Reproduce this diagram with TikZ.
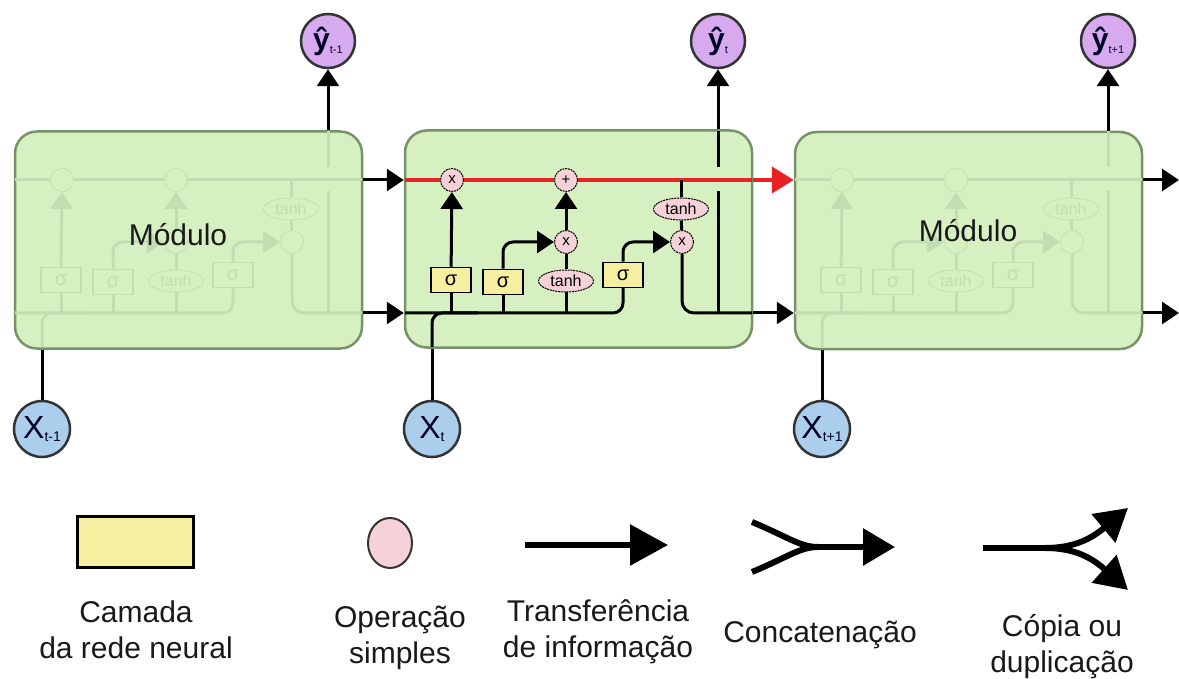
\documentclass[tikz,border=0pt]{standalone}
\usepackage{fontspec}
\setmainfont{Liberation Sans}
\usetikzlibrary{arrows.meta,shapes.geometric}
\definecolor{modfill}{RGB}{214,240,194}
\definecolor{modborder}{RGB}{120,146,106}
\definecolor{ghost}{RGB}{194,221,178}
\definecolor{gateyellow}{RGB}{246,238,160}
\definecolor{oppink}{RGB}{246,210,216}
\definecolor{ypurple}{RGB}{215,170,240}
\definecolor{xblue}{RGB}{170,206,236}
\definecolor{cellred}{RGB}{232,34,34}
\definecolor{txtdark}{RGB}{25,25,25}
\colorlet{LC}{black}
\colorlet{BD}{black}
\colorlet{BF}{gateyellow}
\colorlet{CF}{oppink}
\colorlet{TC}{black}
\newcommand\opmul{x}
\newcommand\opadd{+}
\tikzset{
  module/.style={draw=modborder, line width=2.5pt, fill=modfill, rounded corners=22pt,
    minimum width=347pt, minimum height=217pt, inner sep=0pt},
  inl/.style={draw=LC, line width=3pt},
  inarr/.style={inl, -{Triangle[length=17pt,width=22pt]}},
  celll/.style={inl},
  arr/.style={draw=black, line width=3pt, -{Triangle[length=17pt,width=22pt]}},
  plainl/.style={draw=black, line width=3pt},
  redarr/.style={draw=cellred, line width=4.5pt, -{Triangle[length=22pt,width=26pt]}},
  opc/.style={circle, draw=BD, fill=CF, line width=1pt, dash pattern=on 2pt off 0.8pt,
    minimum size=23pt, inner sep=0pt, font=\fontsize{15}{15}\selectfont, text=TC},
  gatebox/.style={rectangle, draw=BD, fill=BF, line width=1.5pt, minimum width=40pt,
    minimum height=25pt, inner sep=0pt, font=\fontsize{20}{20}\selectfont, text=TC},
  tanhn/.style={ellipse, draw=BD, fill=CF, line width=1pt, dash pattern=on 2pt off 0.8pt,
    minimum width=55pt, minimum height=22pt, inner sep=0pt, font=\fontsize{16}{16}\selectfont, text=TC},
  ynode/.style={circle, draw=black!80, fill=ypurple, line width=2.5pt, minimum size=54pt, inner sep=0pt, text=black!85!blue},
  xnode/.style={circle, draw=black!80, fill=xblue, line width=2.5pt, minimum size=56pt, inner sep=0pt, text=black!85!blue},
  modtxt/.style={font=\fontsize{30}{30}\selectfont, text=txtdark},
  legtxt/.style={align=center, font=\fontsize{30}{36}\selectfont, text=txtdark, inner sep=0pt},
  legl/.style={draw=black, line width=6pt},
  legarr/.style={draw=black, line width=6pt, -{Triangle[length=38pt,width=40pt]}},
  legarrb/.style={draw=black, line width=6pt, -{Triangle[length=32pt,width=36pt]}},
}
\newcommand\lstmbody[1]{%
  \coordinate (#1cl0) at (405,180);
  \coordinate (#1cl1) at (752,180);
  \coordinate (#1hl0) at (405,313);
  \coordinate (#1hl1) at (752,313);
  \coordinate (#1xin) at (432,347);
  \coordinate (#1xj) at (478,313);
  \coordinate (#1hv0) at (718,313);
  \coordinate (#1hv1) at (718,191);
  \coordinate (#1hv2) at (718,167);
  \coordinate (#1hv3) at (718,131);
  \node[opc] (#1m1) at (452,180) {\opmul};
  \node[opc] (#1a) at (566,180) {\opadd};
  \node[opc] (#1m2) at (566,242) {\opmul};
  \node[opc] (#1m3) at (682,242) {\opmul};
  \node[tanhn] (#1th1) at (566,281) {tanh};
  \node[tanhn] (#1th2) at (681,209) {tanh};
  \node[gatebox] (#1s1) at (451,280) {σ};
  \node[gatebox] (#1s2) at (503,282) {σ};
  \node[gatebox] (#1s3) at (623,275) {σ};
  \draw[celll] (#1cl0) -- (#1m1);
  \draw[celll] (#1m1) -- (#1a);
  \draw[celll] (#1a) -- (#1cl1);
  \draw[inl, rounded corners=10pt] (#1hl0) -| (#1s3.south);
  \draw[inl, rounded corners=10pt] (#1xin) |- (#1xj);
  \draw[inl] (#1s1.south) -- (#1s1.south |- #1hl0);
  \draw[inl] (#1s2.south) -- (#1s2.south |- #1hl0);
  \draw[inl] (#1th1.south) -- (#1th1.south |- #1hl0);
  \draw[inarr] (#1s1) -- (#1m1);
  \draw[inarr, rounded corners=10pt] (#1s2.north) |- (#1m2);
  \draw[inl] (#1th1) -- (#1m2);
  \draw[inarr] (#1m2) -- (#1a);
  \draw[inarr, rounded corners=10pt] (#1s3.north) |- (#1m3);
  \draw[inl] (#1th2.north) -- (#1th2.north |- #1cl0);
  \draw[inl] (#1th2) -- (#1m3);
  \draw[inl, rounded corners=12pt] (#1m3.south) |- (#1hl1);
  \draw[inl] (#1hv0) -- (#1hv1);
  \draw[inl] (#1hv2) -- (#1hv3);
}
\begin{document}
\begin{tikzpicture}[x=1pt,y=-1pt]
\useasboundingbox[fill=white] (0,0) rectangle (1179,679);
% modules
\node[module] (modL) at (188.5,240) {};
\node[module] (modM) at (578.5,239) {};
\node[module] (modR) at (968.5,240.5) {};
% ghost bodies
\begin{scope}[xshift=-390pt]
  \colorlet{LC}{ghost}\colorlet{BD}{ghost}\colorlet{BF}{modfill}\colorlet{CF}{modfill}\colorlet{TC}{ghost}
  \renewcommand\opmul{}\renewcommand\opadd{}
  \lstmbody{L}
\end{scope}
\begin{scope}[xshift=390pt]
  \colorlet{LC}{ghost}\colorlet{BD}{ghost}\colorlet{BF}{modfill}\colorlet{CF}{modfill}\colorlet{TC}{ghost}
  \renewcommand\opmul{}\renewcommand\opadd{}
  \lstmbody{R}
\end{scope}
% middle body
\begin{scope}
  \tikzset{celll/.style={draw=cellred, line width=4.5pt}}
  \lstmbody{M}
\end{scope}
\node[modtxt] (lblL) at (178,235) {Módulo};
\node[modtxt] (lblR) at (968,231) {Módulo};
% outputs and inputs
\node[ynode] (y1) at (328,41) {{\fontsize{30}{30}\selectfont\bfseries ŷ}\raisebox{-4pt}{\fontsize{11}{11}\selectfont t-1}};
\node[ynode] (y2) at (718,41) {{\fontsize{30}{30}\selectfont\bfseries ŷ}\raisebox{-4pt}{\fontsize{11}{11}\selectfont t}};
\node[ynode] (y3) at (1108,41) {{\fontsize{30}{30}\selectfont\bfseries ŷ}\raisebox{-4pt}{\fontsize{11}{11}\selectfont t+1}};
\node[xnode] (x1) at (42,429) {{\fontsize{32}{32}\selectfont X}\raisebox{-3pt}{\fontsize{14}{14}\selectfont t-1}};
\node[xnode] (x2) at (432,429) {{\fontsize{32}{32}\selectfont X}\raisebox{-3pt}{\fontsize{14}{14}\selectfont t}};
\node[xnode] (x3) at (822,429) {{\fontsize{32}{32}\selectfont X}\raisebox{-3pt}{\fontsize{14}{14}\selectfont t+1}};
\coordinate (cl) at (0,180);
\coordinate (hl) at (0,313);
\coordinate (outc) at (1179,180);
\coordinate (outh) at (1179,313);
\draw[arr] (modL.north -| y1) -- (y1.south);
\draw[arr] (modM.north -| y2) -- (y2.south);
\draw[arr] (modR.north -| y3) -- (y3.south);
\draw[plainl] (x1.north) -- (modL.south -| x1);
\draw[plainl] (x2.north) -- (modM.south -| x2);
\draw[plainl] (x3.north) -- (modR.south -| x3);
\draw[arr] (modL.east |- cl) -- (modM.west |- cl);
\draw[arr] (modL.east |- hl) -- (modM.west |- hl);
\draw[redarr] (modM.east |- cl) -- (modR.west |- cl);
\draw[arr] (modM.east |- hl) -- (modR.west |- hl);
\draw[arr] (modR.east |- cl) -- (outc);
\draw[arr] (modR.east |- hl) -- (outh);
% legend
\node[rectangle, draw=black, line width=3pt, fill=gateyellow, minimum width=116pt, minimum height=51pt] (lg1) at (135,542) {};
\node[ellipse, draw=black!80, line width=2pt, fill=oppink, minimum width=44pt, minimum height=50pt, inner sep=0pt] (lg2) at (390,543) {};
\coordinate (t1) at (525,545);
\coordinate (t2) at (668,545);
\draw[legarr] (t1) -- (t2);
\coordinate (c1) at (752,522);
\coordinate (c2) at (752,572);
\coordinate (cm) at (818,547);
\coordinate (c3) at (895,547);
\draw[legl] (c1) .. controls (788,537) and (800,547) .. (cm);
\draw[legl] (c2) .. controls (788,557) and (800,547) .. (cm);
\draw[legarrb] (cm) -- (c3);
\coordinate (p1) at (983,548);
\coordinate (pm) at (1045,548);
\coordinate (p2) at (1128,508);
\coordinate (p3) at (1128,590);
\draw[legl] (p1) -- (pm);
\draw[legarrb] (pm) .. controls (1075,548) and (1092,538) .. (p2);
\draw[legarrb] (pm) .. controls (1075,548) and (1092,558) .. (p3);
\node[legtxt] (tx1) at (136,630) {Camada\\da rede neural};
\node[legtxt] (tx2) at (400,638) {Operação\\simples};
\node[legtxt] (tx3) at (598,632) {Transferência\\de informação};
\node[legtxt] (tx4) at (820,635) {Concatenação};
\node[legtxt] (tx5) at (1062,647) {Cópia ou\\duplicação};
\end{tikzpicture}
\end{document}
